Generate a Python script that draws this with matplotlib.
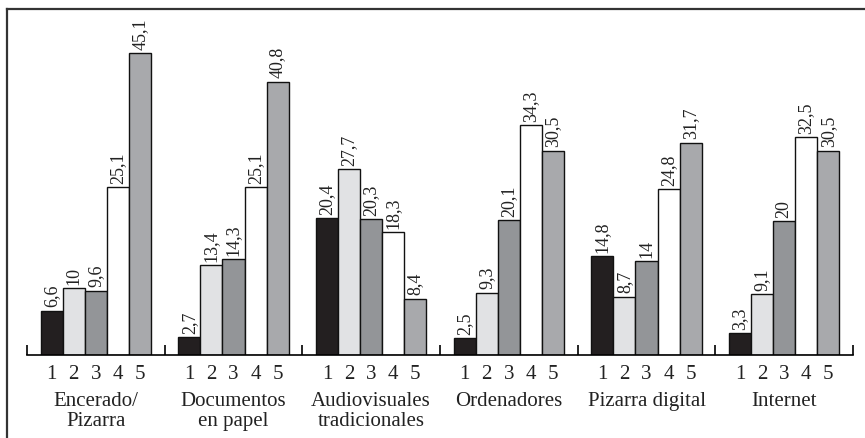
import matplotlib
matplotlib.use('Agg')
import matplotlib.pyplot as plt
import numpy as np
from matplotlib.lines import Line2D

# data
categories = ["Encerado/\nPizarra", "Documentos\nen papel", "Audiovisuales\ntradicionales",
              "Ordenadores", "Pizarra digital", "Internet"]
answers = ["1", "2", "3", "4", "5"]
encerado = [6.6, 10, 9.6, 25.1, 45.1]
documentos = [2.7, 13.4, 14.3, 25.1, 40.8]
audiovisuales = [20.4, 27.7, 20.3, 18.3, 8.4]
ordenadores = [2.5, 9.3, 20.1, 34.3, 30.5]
pizarra_digital = [14.8, 8.7, 14, 24.8, 31.7]
internet = [3.3, 9.1, 20, 32.5, 30.5]

groups = [encerado, documentos, audiovisuales, ordenadores, pizarra_digital, internet]
colors = ["#231f20", "#e1e2e4", "#939598", "#ffffff", "#a8a9ac"]

plt.rcParams['font.family'] = ['Liberation Serif', 'DejaVu Serif']

fig = plt.figure(figsize=(8.65, 4.38), dpi=100)
W, H = 865, 438
ax = fig.add_axes([27 / W, 83 / H, 826 / W, 345 / H])

bw = 0.16
minor_pos = []
minor_lab = []
for i, vals in enumerate(groups):
    for j, v in enumerate(vals):
        x = i + 0.5 + (j - 2) * bw
        ax.bar(x, v, width=bw, color=colors[j], edgecolor="#111111", linewidth=1.0, zorder=2)
        ax.text(x, v + 0.5, f"{v:g}".replace(".", ","), rotation=90, ha="center", va="bottom",
                fontsize=13, color="#222222")
        minor_pos.append(x)
        minor_lab.append(answers[j])
    ax.text(i + 0.5, -0.107, categories[i], transform=ax.get_xaxis_transform(), ha="center",
            va="top", fontsize=15, color="#222222", linespacing=1.1)

ax.set_xlim(0, 6)
ax.set_ylim(0, 51.5)
for s in ["top", "left", "right"]:
    ax.spines[s].set_visible(False)
ax.spines["bottom"].set_linewidth(1.2)
ax.spines["bottom"].set_zorder(3)
ax.set_yticks([])
ax.set_xticks(np.arange(0, 7))
ax.set_xticklabels([])
ax.tick_params(axis="x", which="major", direction="in", length=7, width=1.2)
ax.set_xticks(minor_pos, minor=True)
ax.set_xticklabels(minor_lab, minor=True)
ax.tick_params(axis="x", which="minor", length=0, pad=7, labelsize=15, labelcolor="#222222")

# frame around the figure (cut at right and bottom)
fig.add_artist(Line2D([7.5 / W, 7.5 / W], [0, 1 - 9 / H], color="#333333", linewidth=1.6))
fig.add_artist(Line2D([7.5 / W, 1], [1 - 9 / H, 1 - 9 / H], color="#333333", linewidth=1.6))

fig.savefig("out.png", dpi=100)
